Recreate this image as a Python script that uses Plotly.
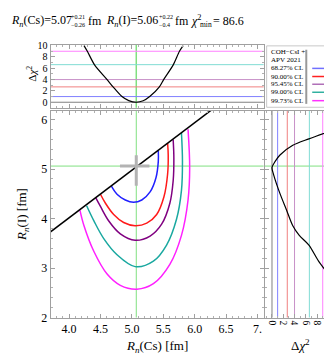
import plotly.graph_objects as go

W, H = 332, 360

# ---------------- data ----------------
# best fit
rn_cs_best = 5.07
rn_i_best = 5.06
rn_cs_err = (0.21, 0.26)
rn_i_err = (0.22, 0.4)
chi2_min = 86.6

# 1D profile: Delta chi2 vs Rn(Cs)  (top panel)
cs_rn = [4.237, 4.29, 4.405, 4.605, 4.70, 4.842, 4.95, 5.07, 5.18, 5.284, 5.438, 5.506, 5.659, 5.758, 5.817]
cs_dchi2 = [10, 9, 6.6, 4, 2.71, 1, 0.28, 0, 0.25, 1, 2.71, 4, 6.6, 9, 10]

# 1D profile: Delta chi2 vs Rn(I)  (right panel)
i_dchi2 = [9.97, 8.26, 6.55, 4.84, 3.69, 2.56, 1.42, 0.27, 0, 0.56, 1.42, 3.69, 6.55, 9.97]
i_rn = [2.878, 3.138, 3.463, 3.659, 3.854, 4.179, 4.503, 4.893, 5.03, 5.155, 5.284, 5.479, 5.610, 5.752]

# 1D CL levels (Delta chi2)
cl_levels_1d = [1.0, 2.71, 4.0, 6.63, 9.0]
cl_labels = ["68.27% CL", "90.00% CL", "95.45% CL", "99.00% CL", "99.73% CL"]

# 2D contours (Rn(Cs), Rn(I))
c68_x = [4.674, 4.763, 4.895, 5.026, 5.158, 5.290, 5.385, 5.421, 5.421]
c68_y = [4.654, 4.491, 4.374, 4.328, 4.374, 4.537, 4.829, 5.154, 5.363]
c90_x = [4.499, 4.579, 4.710, 4.869, 5.052, 5.237, 5.395, 5.511, 5.569, 5.579, 5.569]
c90_y = [4.491, 4.309, 4.081, 3.919, 3.854, 3.906, 4.081, 4.439, 4.894, 5.285, 5.525]
c95_x = [4.421, 4.499, 4.632, 4.816, 5.052, 5.290, 5.474, 5.605, 5.658, 5.669, 5.658]
c95_y = [4.426, 4.244, 3.951, 3.691, 3.561, 3.646, 3.886, 4.309, 4.764, 5.220, 5.597]
c99_x = [4.279, 4.395, 4.552, 4.763, 5.052, 5.343, 5.553, 5.711, 5.790, 5.806, 5.790]
c99_y = [4.257, 3.951, 3.594, 3.268, 3.028, 3.138, 3.463, 3.984, 4.569, 5.154, 5.727]
c997_x = [4.173, 4.237, 4.395, 4.605, 4.816, 5.079, 5.343, 5.605, 5.790, 5.895, 5.921, 5.895]
c997_y = [4.166, 3.854, 3.333, 2.878, 2.650, 2.572, 2.683, 3.073, 3.659, 4.374, 5.024, 5.805]

# physical boundary line
boundary_x = [3.60, 6.40]
boundary_y = [3.63, 6.32]

main_x_ticks = [4.0, 4.5, 5.0, 5.5, 6.0, 6.5, 7.0]
main_x_labels = ["4.0", "4.5", "5.0", "5.5", "6.0", "6.5", "7."]

contour_colors = ["#2020ff", "#ff1a1a", "#800080", "#1aa8a0", "#ff20ff"]
light_colors = ["#8080ff", "#f08080", "#c890c8", "#80dcd4", "#ff80ff"]
legend_colors = ["#7070ff", "#ff2020", "#b070b8", "#30b0a0", "#ff30ff"]
green = "#80e080"
FONT = "Liberation Serif"

# ---------------- layout helpers ----------------
def px(x):
    return x / W

def py(y):
    return 1 - y / H

fig = go.Figure()

contours = [(c68_x, c68_y), (c90_x, c90_y), (c95_x, c95_y), (c99_x, c99_y), (c997_x, c997_y)]
for (cx, cy), col in zip(contours, contour_colors):
    fig.add_trace(go.Scatter(x=cx, y=cy, mode="lines",
                             line=dict(color=col, width=1.5, shape="spline", smoothing=1.0),
                             xaxis="x", yaxis="y", hoverinfo="skip", showlegend=False))

fig.add_trace(go.Scatter(x=boundary_x, y=boundary_y, mode="lines", line=dict(color="black", width=1.5),
                         xaxis="x", yaxis="y", showlegend=False))

fig.add_trace(go.Scatter(x=[rn_cs_best], y=[rn_i_best], mode="markers",
                         marker=dict(size=3, color="#b3b3b3"),
                         error_x=dict(type="data", symmetric=False, array=[rn_cs_err[0]], arrayminus=[rn_cs_err[1]],
                                      color="#b3b3b3", thickness=3, width=0),
                         error_y=dict(type="data", symmetric=False, array=[rn_i_err[0]], arrayminus=[rn_i_err[1]],
                                      color="#b3b3b3", thickness=3, width=0),
                         xaxis="x", yaxis="y", showlegend=False))

fig.add_trace(go.Scatter(x=cs_rn, y=cs_dchi2, mode="lines",
                         line=dict(color="black", width=1.2, shape="spline", smoothing=0.8),
                         xaxis="x2", yaxis="y2", showlegend=False))
fig.add_trace(go.Scatter(x=i_dchi2, y=i_rn, mode="lines",
                         line=dict(color="black", width=1.2, shape="spline", smoothing=0.8),
                         xaxis="x3", yaxis="y3", showlegend=False))

shapes = []
shapes.append(dict(type="line", xref="x", yref="y domain", x0=rn_cs_best, x1=rn_cs_best, y0=0, y1=1,
                   line=dict(color=green, width=1), layer="below"))
shapes.append(dict(type="line", xref="x domain", yref="y", x0=0, x1=1, y0=rn_i_best, y1=rn_i_best,
                   line=dict(color=green, width=1), layer="below"))
shapes.append(dict(type="line", xref="x2", yref="y2 domain", x0=rn_cs_best, x1=rn_cs_best, y0=0, y1=1,
                   line=dict(color=green, width=1.5), layer="below"))
shapes.append(dict(type="line", xref="x3 domain", yref="y3", x0=0, x1=1, y0=rn_i_best, y1=rn_i_best,
                   line=dict(color=green, width=1), layer="below"))
shapes.append(dict(type="line", xref="x2 domain", yref="y2", x0=0, x1=1, y0=0, y1=0,
                   line=dict(color="#808080", width=1), layer="below"))
shapes.append(dict(type="line", xref="x3", yref="y3 domain", x0=0, x1=0, y0=0, y1=1,
                   line=dict(color="#808080", width=1), layer="below"))
for lev, col in zip(cl_levels_1d, light_colors):
    shapes.append(dict(type="line", xref="x2 domain", yref="y2", x0=0, x1=1, y0=lev, y1=lev,
                       line=dict(color=col, width=1), layer="below"))
    shapes.append(dict(type="line", xref="x3", yref="y3 domain", x0=lev, x1=lev, y0=0, y1=1,
                       line=dict(color=col, width=1), layer="below"))

# legend box
shapes.append(dict(type="rect", xref="paper", yref="paper", x0=px(261), x1=px(331.5), y0=py(97.5), y1=py(34),
                   line=dict(color="#c8c8c8", width=1), fillcolor="white"))
shapes.append(dict(type="line", xref="paper", yref="paper", x0=px(301), x1=px(301), y0=py(94), y1=py(38),
                   line=dict(color="#999999", width=2)))
annotations = []
legend_rows = [57.3, 65.7, 73.7, 82.0, 90.7]
for row, col, lab in zip(legend_rows, legend_colors, cl_labels):
    shapes.append(dict(type="line", xref="paper", yref="paper", x0=px(307), x1=px(331), y0=py(row), y1=py(row),
                       line=dict(color=col, width=1.5)))
    annotations.append(dict(xref="paper", yref="paper", x=px(263.5), y=py(row), text=lab, showarrow=False,
                            xanchor="left", yanchor="middle", font=dict(family=FONT, size=7, color="black")))
annotations.append(dict(xref="paper", yref="paper", x=px(263.5), y=py(40.5), text="COH−CsI +", showarrow=False,
                        xanchor="left", yanchor="middle", font=dict(family=FONT, size=7, color="black")))
annotations.append(dict(xref="paper", yref="paper", x=px(263.5), y=py(49), text="APV 2021", showarrow=False,
                        xanchor="left", yanchor="middle", font=dict(family=FONT, size=7, color="black")))


def ann(x, y, text, size, anchor="left"):
    annotations.append(dict(xref="paper", yref="paper", x=px(x), y=py(y), text=text, showarrow=False,
                            xanchor=anchor, yanchor="middle", font=dict(family=FONT, size=size, color="black")))


# title pieces
ann(1, 8, "<i>R</i><sub><i>n</i></sub>(Cs)=%.2f" % rn_cs_best, 12)
ann(62, 4, "+%.2f" % rn_cs_err[0], 6)
ann(62, 12.5, "−%.2f" % rn_cs_err[1], 6)
ann(79, 8, "fm", 12)
ann(97, 8, "<i>R</i><sub><i>n</i></sub>(I)=%.2f" % rn_i_best, 12)
ann(150, 4, "+%.2f" % rn_i_err[0], 6)
ann(150, 12.5, "−%.1f" % rn_i_err[1], 6)
ann(166, 8, "fm", 12)
ann(183, 8, "<i>χ</i><sup>2</sup>", 12)
ann(192, 12, "min", 7.5)
ann(205, 8, "= %.1f" % chi2_min, 12)

# axis titles
ann(150.5, 345, "<i>R</i><sub><i>n</i></sub>(Cs) [fm]", 13, "center")
ann(295, 343, "Δ<i>χ</i><sup>2</sup>", 13, "center")
annotations.append(dict(xref="paper", yref="paper", x=px(14), y=py(208), text="<i>R</i><sub><i>n</i></sub>(I) [fm]",
                        showarrow=False, textangle=-90, xanchor="center", yanchor="middle",
                        font=dict(family=FONT, size=13, color="black")))
annotations.append(dict(xref="paper", yref="paper", x=px(24), y=py(63), text="Δ<i>χ</i><sup>2</sup>",
                        showarrow=False, textangle=-90, xanchor="center", yanchor="middle",
                        font=dict(family=FONT, size=11, color="black")))

axis_common = dict(showline=True, mirror="ticks", linecolor="#a0a0a0", linewidth=1, ticks="inside",
                   tickcolor="#a0a0a0", ticklen=4, showgrid=False, zeroline=False,
                   tickfont=dict(family=FONT, size=12, color="black"))
small_font = dict(family=FONT, size=10, color="black")
right_font = dict(family=FONT, size=9.5, color="black")

fig.update_layout(
    width=W, height=H, margin=dict(l=0, r=0, t=0, b=0),
    paper_bgcolor="white", plot_bgcolor="white", showlegend=False,
    xaxis=dict(domain=[px(43), px(258)], range=[3.705, 7.10], anchor="y",
               tickvals=main_x_ticks, ticktext=main_x_labels,
               minor=dict(ticks="inside", ticklen=2, dtick=0.1, tickcolor="#b0b0b0"), **axis_common),
    yaxis=dict(domain=[py(315), py(101)], range=[2.0, 6.18], anchor="x", dtick=1,
               minor=dict(ticks="inside", ticklen=2, dtick=0.2, tickcolor="#b0b0b0"), **axis_common),
    xaxis2=dict(domain=[px(43), px(258)], range=[3.705, 7.10], anchor="y2", showticklabels=False,
                dtick=0.5, minor=dict(ticks="inside", ticklen=2, dtick=0.1, tickcolor="#b0b0b0"), **axis_common),
    yaxis2=dict(domain=[py(98), py(33)], range=[-0.97, 10.12], anchor="x2", dtick=2,
                minor=dict(ticks="inside", ticklen=2, dtick=1, tickcolor="#b0b0b0"),
                **{**axis_common, "tickfont": small_font}),
    xaxis3=dict(domain=[px(259), px(325)], range=[-1.3, 10.3], anchor="y3", dtick=2, tickangle=90,
                minor=dict(ticks="inside", ticklen=2, dtick=1, tickcolor="#b0b0b0"),
                **{**axis_common, "tickfont": right_font}),
    yaxis3=dict(domain=[py(315), py(101)], range=[2.0, 6.18], anchor="x3", showticklabels=False, dtick=1,
                minor=dict(ticks="inside", ticklen=2, dtick=0.2, tickcolor="#b0b0b0"), **axis_common),
    shapes=shapes, annotations=annotations,
)

fig.write_html("out.html")
